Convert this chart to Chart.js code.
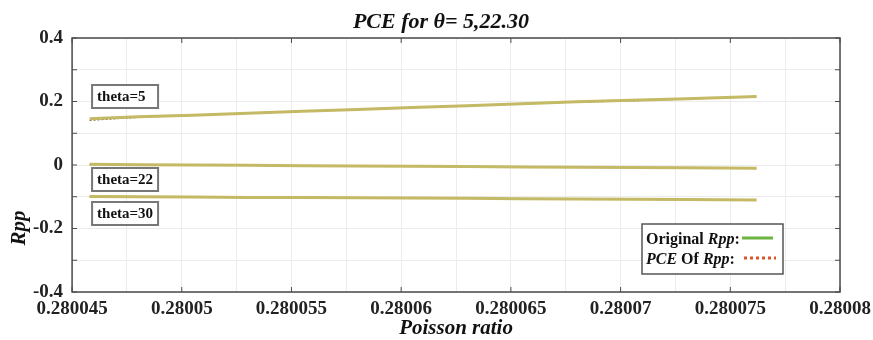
<!DOCTYPE html>
<html>
<head>
<meta charset="utf-8">
<script src="https://cdn.jsdelivr.net/npm/chart.js@4"></script>
<style>
  html, body { margin: 0; padding: 0; background: #fff; }
  #wrap { width: 873px; height: 340px; }
</style>
</head>
<body>
<div id="wrap"><canvas id="myChart" width="873" height="340"></canvas></div>
<script>
// poisson ratio samples
const poisson = [0.2800458, 0.280048, 0.2800505, 0.280053, 0.2800555, 0.280058, 0.2800605,
                 0.280063, 0.2800655, 0.280068, 0.2800705, 0.280073, 0.2800762];

// original Rpp
const orig5  = [0.146, 0.152, 0.157, 0.163, 0.169, 0.175, 0.181, 0.187, 0.193, 0.199, 0.204, 0.209, 0.216];
const orig22 = [0.002, 0.001, 0.000, -0.001, -0.002, -0.003, -0.004, -0.005, -0.006, -0.007, -0.008, -0.009, -0.010];
const orig30 = [-0.099, -0.100, -0.101, -0.102, -0.102, -0.103, -0.104, -0.105, -0.106, -0.107, -0.108, -0.109, -0.110];

// PCE of Rpp
const pce5  = [0.141, 0.150, 0.157, 0.163, 0.169, 0.175, 0.181, 0.187, 0.193, 0.198, 0.202, 0.208, 0.215];
const pce22 = [0.001, 0.001, 0.000, -0.001, -0.002, -0.003, -0.004, -0.005, -0.006, -0.007, -0.008, -0.009, -0.011];
const pce30 = [-0.100, -0.100, -0.101, -0.102, -0.102, -0.103, -0.104, -0.105, -0.106, -0.107, -0.108, -0.109, -0.111];

const thetaLabels = ['theta=5', 'theta=22', 'theta=30'];

const xTicks = [0.280045, 0.2800475, 0.28005, 0.2800525, 0.280055, 0.2800575, 0.28006, 0.2800625,
                0.280065, 0.2800675, 0.28007, 0.2800725, 0.280075, 0.2800775, 0.28008];
const xTickLabels = ['0.280045', '', '0.28005', '', '0.280055', '', '0.28006', '',
                     '0.280065', '', '0.28007', '', '0.280075', '', '0.28008'];
const yTicks = [-0.4, -0.3, -0.2, -0.1, 0, 0.1, 0.2, 0.3, 0.4];
const yTickLabels = ['-0.4', '', '-0.2', '', '0', '', '0.2', '', '0.4'];

const serif = "'Liberation Serif', 'Times New Roman', serif";
const origColor = '#c4b964';
const pceColor = '#6f5528';

function toPoints(ys) {
  return poisson.map((x, i) => ({ x: x, y: ys[i] }));
}

function origSet(ys, name) {
  return { label: name, data: toPoints(ys), borderColor: origColor, borderWidth: 3,
           pointRadius: 0, fill: false };
}
function pceSet(ys, name) {
  return { label: name, data: toPoints(ys), borderColor: pceColor, borderWidth: 1.3,
           borderDash: [2, 2], pointRadius: 0, fill: false };
}

// title, y label, frame, inner ticks, theta boxes and legend (MATLAB look)
const decor = {
  id: 'decor',
  afterDraw(chart) {
    const ctx = chart.ctx;
    const a = chart.chartArea;
    const xs = chart.scales.x, ys = chart.scales.y;
    ctx.save();

    ctx.fillStyle = '#111';
    ctx.font = 'italic bold 22px ' + serif;
    ctx.textAlign = 'center';
    ctx.textBaseline = 'middle';
    ctx.fillText('PCE for \u03B8= 5,22.30', 441, 22);

    ctx.save();
    ctx.translate(20, 228);
    ctx.rotate(-Math.PI / 2);
    ctx.font = 'italic bold 21px ' + serif;
    ctx.fillText('Rpp', 0, 0);
    ctx.restore();
    ctx.textAlign = 'left';

    ctx.strokeStyle = '#4a4a4a';
    ctx.lineWidth = 1.5;
    ctx.strokeRect(a.left, a.top, a.right - a.left, a.bottom - a.top);
    ctx.lineWidth = 1;
    xTicks.forEach((v, i) => {
      if (!xTickLabels[i]) return;
      const px = xs.getPixelForValue(v);
      ctx.beginPath();
      ctx.moveTo(px, a.bottom); ctx.lineTo(px, a.bottom - 5);
      ctx.moveTo(px, a.top); ctx.lineTo(px, a.top + 5);
      ctx.stroke();
    });
    yTicks.forEach(v => {
      const py = ys.getPixelForValue(v);
      ctx.beginPath();
      ctx.moveTo(a.left, py); ctx.lineTo(a.left + 5, py);
      ctx.moveTo(a.right, py); ctx.lineTo(a.right - 5, py);
      ctx.stroke();
    });

    // theta boxes
    const boxTops = [85, 168, 202];
    ctx.font = 'bold 15px ' + serif;
    thetaLabels.forEach((t, i) => {
      const bx = a.left + 20, by = boxTops[i];
      ctx.fillStyle = '#fff';
      ctx.fillRect(bx, by, 66, 23);
      ctx.strokeStyle = '#777';
      ctx.lineWidth = 2;
      ctx.strokeRect(bx, by, 66, 23);
      ctx.fillStyle = '#111';
      ctx.fillText(t, bx + 5, by + 12);
    });

    // legend
    const lx = 642, ly = 224, lw = 141, lh = 50;
    ctx.fillStyle = '#fff';
    ctx.fillRect(lx, ly, lw, lh);
    ctx.strokeStyle = '#555';
    ctx.lineWidth = 1.5;
    ctx.strokeRect(lx, ly, lw, lh);
    ctx.fillStyle = '#111';
    ctx.textBaseline = 'alphabetic';
    const runs = [
      [['bold 16px ', 'Original '], ['bold italic 16px ', 'Rpp'], ['bold 16px ', ':']],
      [['bold italic 16px ', 'PCE'], ['bold 16px ', ' Of '], ['bold italic 16px ', 'Rpp'], ['bold 16px ', ':']]
    ];
    runs.forEach((r, k) => {
      let tx = lx + 4;
      const base = ly + 20 + k * 20;
      r.forEach(([f, s]) => {
        ctx.font = f + serif;
        ctx.fillText(s, tx, base);
        tx += ctx.measureText(s).width;
      });
    });
    ctx.strokeStyle = '#6db33f';
    ctx.lineWidth = 3;
    ctx.beginPath(); ctx.moveTo(742, 238); ctx.lineTo(773, 238); ctx.stroke();
    ctx.strokeStyle = '#d9542a';
    ctx.setLineDash([3, 3]);
    ctx.beginPath(); ctx.moveTo(744, 258); ctx.lineTo(776, 258); ctx.stroke();
    ctx.restore();
  }
};

const options = {
  responsive: false,
  animation: false,
  layout: { padding: { left: 24, right: 33, top: 38, bottom: 0 } },
  scales: {
    x: {
      type: 'linear',
      min: 0.280045,
      max: 0.28008,
      afterBuildTicks: s => { s.ticks = xTicks.map(v => ({ value: v })); },
      afterFit: s => { s.paddingRight = 0; s.paddingLeft = 0; },
      grid: { color: '#ececec', drawTicks: false },
      border: { display: false },
      ticks: {
        autoSkip: false, maxRotation: 0, padding: 8, color: '#222',
        font: { family: serif, size: 19, weight: 'bold', lineHeight: 1 },
        callback: (v, i) => xTickLabels[i]
      },
      title: {
        display: true, text: 'Poisson ratio', color: '#111',
        padding: { top: -9, bottom: 1 },
        font: { family: serif, size: 21, weight: 'bold', style: 'italic', lineHeight: 1 }
      }
    },
    y: {
      min: -0.4,
      max: 0.4,
      afterBuildTicks: s => { s.ticks = yTicks.map(v => ({ value: v })); },
      grid: { color: '#ececec', drawTicks: false },
      border: { display: false },
      ticks: {
        autoSkip: false, padding: 9, color: '#222',
        font: { family: serif, size: 19, weight: 'bold', lineHeight: 1 },
        callback: (v, i) => yTickLabels[i]
      }
    }
  },
  plugins: {
    title: { display: false },
    legend: { display: false },
    tooltip: { enabled: false }
  }
};

const ctx = document.getElementById('myChart').getContext('2d');
const myChart = new Chart(ctx, {
  type: 'line',
  plugins: [decor],
  data: {
    datasets: [
      origSet(orig5, 'Original Rpp theta=5'),
      origSet(orig22, 'Original Rpp theta=22'),
      origSet(orig30, 'Original Rpp theta=30'),
      pceSet(pce5, 'PCE Of Rpp theta=5'),
      pceSet(pce22, 'PCE Of Rpp theta=22'),
      pceSet(pce30, 'PCE Of Rpp theta=30')
    ]
  },
  options: options
});
</script>
</body>
</html>
